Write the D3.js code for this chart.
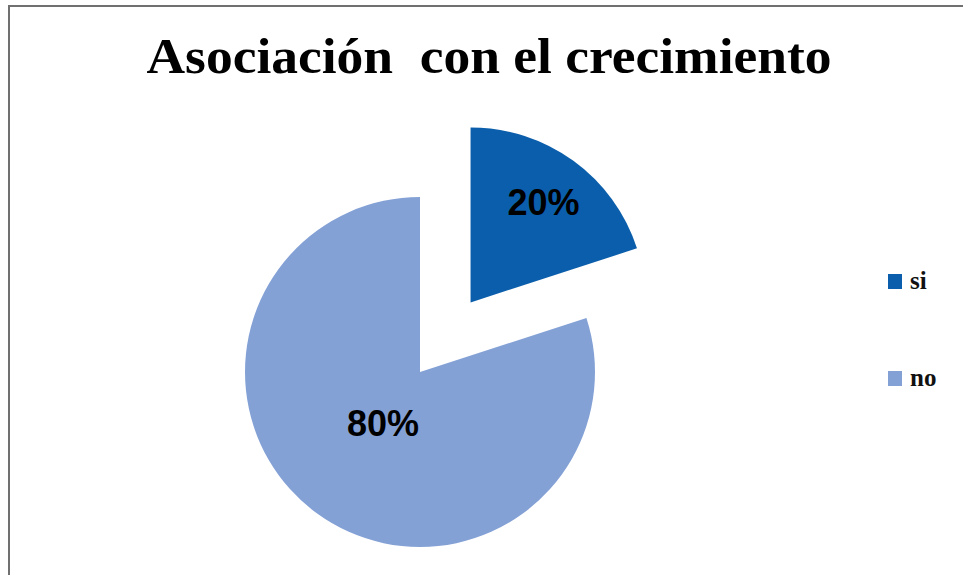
<!DOCTYPE html>
<html>
<head>
<meta charset="utf-8">
<script src="https://cdn.jsdelivr.net/npm/d3@7"></script>
<style>
  html, body { margin: 0; padding: 0; background: #ffffff; }
  svg { display: block; }
</style>
</head>
<body>
<svg id="chart" width="963" height="575"></svg>
<script>
// ---- data ----
const categories = ["si", "no"];
const values = [20, 80];
const labels = ["20%", "80%"];
const colors = ["#0b5eab", "#84a1d6"];
const titleText = "Asociación  con el crecimiento";

// ---- layout ----
const svg = d3.select("#chart");
const W = 963, H = 575;
const cx = 420, cy = 372, R = 175;
const explode = [86, 0];
const labelRadius = [124, 63];

// frame
svg.append("rect")
  .attr("x", 9).attr("y", 6)
  .attr("width", W + 20).attr("height", H + 20)
  .attr("fill", "#ffffff")
  .attr("stroke", "#707070")
  .attr("stroke-width", 2);

// title
svg.append("text")
  .attr("x", 489).attr("y", 73)
  .attr("text-anchor", "middle")
  .style("white-space", "pre")
  .attr("font-family", "'Liberation Serif', 'DejaVu Serif', serif")
  .attr("font-weight", "bold")
  .attr("font-size", 51)
  .attr("textLength", 685)
  .attr("lengthAdjust", "spacingAndGlyphs")
  .attr("fill", "#000")
  .text(titleText);

const pie = d3.pie().sort(null).value(d => d).startAngle(0).endAngle(2 * Math.PI);
const arcs = pie(values);
const arc = d3.arc().innerRadius(0).outerRadius(R);

const g = svg.append("g").attr("transform", `translate(${cx},${cy})`);

arcs.forEach((a, i) => {
  const mid = (a.startAngle + a.endAngle) / 2;
  const ox = explode[i] * Math.sin(mid);
  const oy = -explode[i] * Math.cos(mid);
  const sg = g.append("g").attr("transform", `translate(${ox},${oy})`);
  sg.append("path")
    .attr("d", arc(a))
    .attr("fill", colors[i]);
  const lr = labelRadius[i];
  sg.append("text")
    .attr("x", lr * Math.sin(mid))
    .attr("y", -lr * Math.cos(mid) + 13)
    .attr("text-anchor", "middle")
    .attr("font-family", "'Liberation Sans', Arial, sans-serif")
    .attr("font-weight", "bold")
    .attr("font-size", 36)
    .attr("fill", "#000")
    .text(labels[i]);
});

// legend
const legendY = [274, 371];
const lg = svg.append("g");
categories.forEach((c, i) => {
  lg.append("rect")
    .attr("x", 888).attr("y", legendY[i])
    .attr("width", 14).attr("height", 15)
    .attr("fill", colors[i]);
  lg.append("text")
    .attr("x", 910).attr("y", legendY[i] + 15)
    .attr("font-family", "'Liberation Serif', 'DejaVu Serif', serif")
    .attr("font-weight", "bold")
    .attr("font-size", 25)
    .attr("fill", "#111")
    .text(c);
});
</script>
</body>
</html>
